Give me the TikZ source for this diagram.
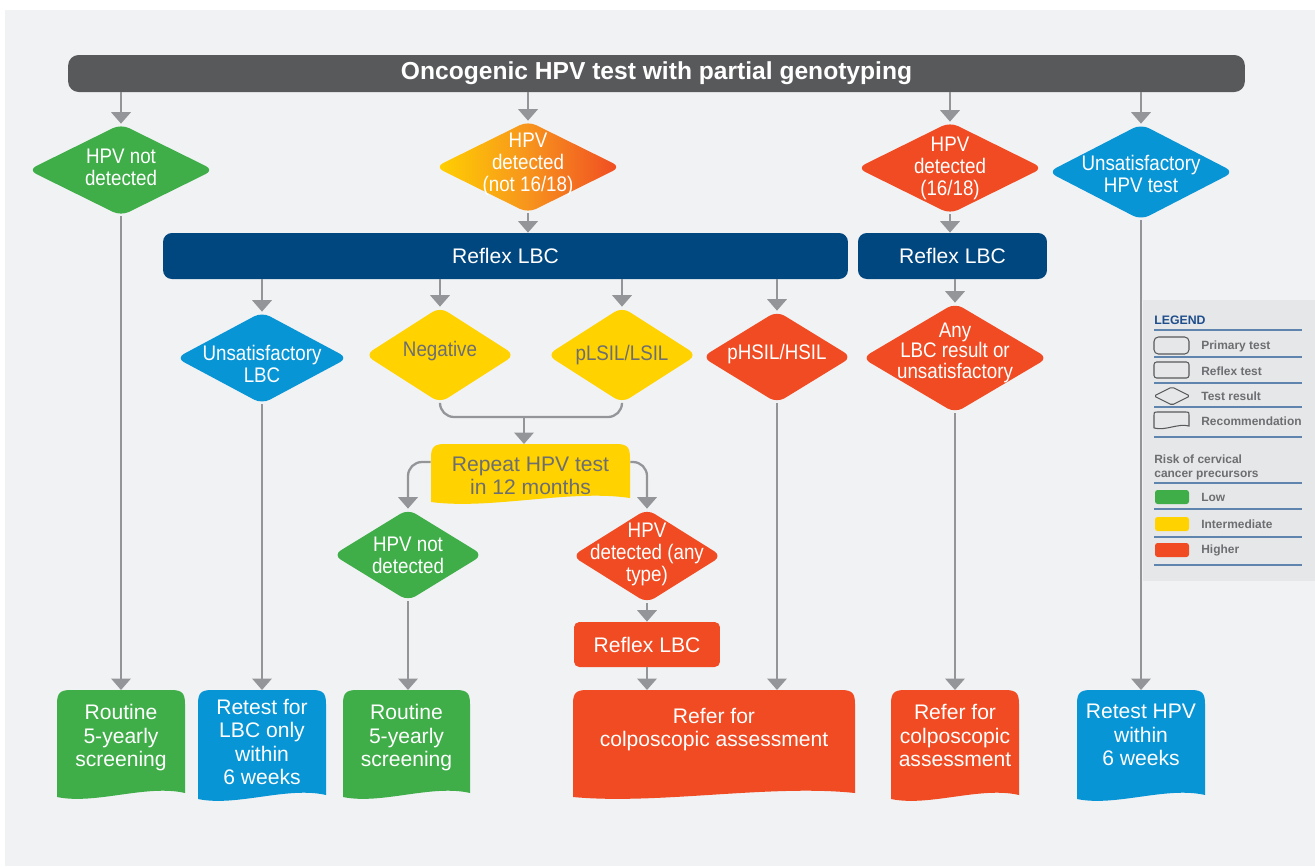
\documentclass[tikz,border=0pt]{standalone}
\usepackage{fontspec}
\setmainfont{Liberation Sans}
\newfontfamily\narrowfont[FakeStretch=0.89]{Liberation Sans}
\usepackage{tikz}
\usetikzlibrary{shapes.geometric,arrows.meta,positioning,calc}

\definecolor{pagebg}{HTML}{F1F2F4}
\definecolor{barGrey}{HTML}{58595B}
\definecolor{lbcBlue}{HTML}{00477F}
\definecolor{lowGreen}{HTML}{3FAE49}
\definecolor{unsatBlue}{HTML}{0795D6}
\definecolor{midYellow}{HTML}{FFD200}
\definecolor{midOrange}{HTML}{F7941D}
\definecolor{highRed}{HTML}{F04B23}
\definecolor{txtGrey}{HTML}{6D6E71}
\definecolor{lineGrey}{HTML}{939598}
\definecolor{legendBg}{HTML}{E6E7E8}
\definecolor{legendLine}{HTML}{5F84AE}
\definecolor{legendBlue}{HTML}{1F4E8C}

\newcommand{\mainsize}{\fontsize{12}{13.3}\selectfont}
\newcommand{\diamsize}{\narrowfont\fontsize{12}{12.5}\selectfont}

% recommendation box: name, left, right, top, bottom, colour, node options, text
\newcommand{\recbox}[8]{%
  \fill[#6] (#2,#5) -- (#2,{#4+14}) .. controls (#2,{#4+3}) and ({#2+3},#4) .. ({#2+14},#4)
    -- ({#3-14},#4) .. controls ({#3-3},#4) and (#3,{#4+3}) .. (#3,{#4+14})
    -- (#3,{#5-4}) .. controls ({#3-0.3*(#3-#2)},{#5-13}) and ({#3-0.7*(#3-#2)},{#5+8}) .. (#2,#5) -- cycle;
  \pgfmathsetmacro\recw{(#3-#2)*0.02}
  \node[recbox, minimum width=\recw cm, #7] (#1) at ({(#2+#3)/2},#4) {#8};
}

\begin{document}
\begin{tikzpicture}[x=0.02cm, y=-0.02cm,
    arr/.style={draw=lineGrey, line width=1.3pt, -{Triangle[width=11pt,length=6.5pt]}},
    conn/.style={draw=lineGrey, line width=1.3pt},
    titlebar/.style={rectangle, rounded corners=6pt, fill=barGrey, text=white,
      font=\bfseries\fontsize{14}{16}\selectfont, minimum width=23.54cm, minimum height=0.74cm},
    bar/.style={rectangle, rounded corners=5pt, fill=lbcBlue, text=white, font=\mainsize,
      minimum height=0.92cm},
    diam/.style={diamond, inner sep=0pt, rounded corners=5pt,
      minimum width=3.72cm, minimum height=1.84cm},
    dtext/.style={text=white, align=center, font=\diamsize},
    recbox/.style={rectangle, anchor=north, align=center, text=white, font=\mainsize,
      inner xsep=0pt, inner ysep=8pt},
    legtext/.style={anchor=west, inner sep=0pt, text=txtGrey,
      font=\bfseries\fontsize{6.8}{8}\selectfont},
    legicon/.style={draw=barGrey, line width=0.6pt}]

\useasboundingbox (0,0) rectangle (1315,866);
\fill[pagebg] (5,10) rectangle (1315,866);

% legend
\fill[legendBg] (1143,300) rectangle (1315,581);
\node[legtext, text=legendBlue, font=\bfseries\fontsize{7}{8}\selectfont] (legend) at (1154,320) {LEGEND};
\foreach \y in {330,357,383,407,437,483,509,537,565}
    \draw[legendLine, line width=0.6pt] (1154,\y) -- (1302,\y);
\draw[legicon, rounded corners=2.5pt] (1154,337) rectangle (1189,354);
\draw[legicon, rounded corners=1.5pt] (1154,362) rectangle (1189,378);
\draw[legicon, rounded corners=1pt] (1154,396) -- (1172,387) -- (1190,396) -- (1172,405) -- cycle;
\draw[legicon] (1154,428) -- (1154,415) .. controls (1154,412) .. (1157,412) -- (1186,412)
    .. controls (1189,412) .. (1189,415) -- (1189,426) .. controls (1178,423) and (1166,431) .. (1154,428);
\node[legtext] (lprim) at (1201,346) {Primary test};
\node[legtext] (lrefl) at (1201,371) {Reflex test};
\node[legtext] (lres) at (1201,396) {Test result};
\node[legtext] (lrec) at (1201,421) {Recommendation};
\node[legtext, align=left] (lrisk) at (1154,467) {Risk of cervical\\cancer precursors};
\fill[lowGreen, rounded corners=1.5pt] (1155,490) rectangle (1189,504);
\fill[midYellow, rounded corners=1.5pt] (1155,517) rectangle (1189,531);
\fill[highRed, rounded corners=1.5pt] (1155,543) rectangle (1189,557);
\node[legtext] (llow) at (1201,497) {Low};
\node[legtext] (lmid) at (1201,524) {Intermediate};
\node[legtext] (lhigh) at (1201,550) {Higher};

% primary test
\node[titlebar] (top) at (656.5,73.5) {Oncogenic HPV test with partial genotyping};

% first results
\node[diam, fill=lowGreen, label={[dtext, yshift=1.5pt]center:{HPV not\\detected}}] (d1) at (121,170) {};
\node[diam, left color=midYellow, right color=highRed, middle color=midOrange,
    label={[dtext, yshift=1.5pt]center:{HPV\\detected\\(not 16/18)}}] (d2) at (528,167) {};
\node[diam, fill=highRed, label={[dtext]center:{HPV\\detected\\(16/18)}}] (d3) at (950,168) {};
\node[diam, fill=unsatBlue, minimum height=1.92cm,
    label={[dtext, yshift=-1pt]center:{Unsatisfactory\\HPV test}}] (d4) at (1141,172) {};

% reflex tests
\node[bar, minimum width=13.7cm] (refA) at (505.5,256) {Reflex LBC};
\node[bar, minimum width=3.78cm] (refB) at (952.5,256) {Reflex LBC};

% LBC results
\node[diam, fill=unsatBlue, minimum width=3.44cm,
    label={[dtext, yshift=-3.5pt]center:{Unsatisfactory\\LBC}}] (d5) at (262,358) {};
\node[diam, fill=midYellow, minimum width=3cm, minimum height=1.92cm,
    label={[dtext, text=txtGrey, yshift=2pt]center:Negative}] (d6) at (440,355) {};
\node[diam, fill=midYellow, minimum width=3cm, minimum height=1.92cm,
    label={[dtext, text=txtGrey]center:pLSIL/LSIL}] (d7) at (622,355) {};
\node[diam, fill=highRed, minimum width=3cm,
    label={[dtext, yshift=1.5pt]center:pHSIL/HSIL}] (d8) at (777,357) {};
\node[diam, fill=highRed, minimum height=2.2cm,
    label={[dtext, font=\narrowfont\fontsize{12}{11.5}\selectfont, yshift=3pt]center:{Any\\LBC result or\\unsatisfactory}}] (d9) at (955,358) {};

% repeat test
\recbox{rep}{431}{630}{444}{502}{midYellow}{text=txtGrey, inner ysep=7pt}{Repeat HPV test\\in 12 months}
\node[diam, fill=lowGreen, minimum width=3cm,
    label={[dtext]center:{HPV not\\detected}}] (d10) at (408,555) {};
\node[diam, fill=highRed, minimum width=3cm, minimum height=1.88cm,
    label={[dtext, yshift=1pt]center:{HPV\\detected (any\\type)}}] (d11) at (647,556) {};
\node[bar, fill=highRed, rounded corners=3pt, minimum width=2.92cm, minimum height=0.9cm] (refC) at (647,644.5) {Reflex LBC};

% recommendations
\recbox{r1}{57}{185}{690}{797}{lowGreen}{}{Routine\\5-yearly\\screening}
\recbox{r2}{198}{326}{690}{799}{unsatBlue}{inner ysep=5pt}{Retest for\\LBC only\\within\\6 weeks}
\recbox{r3}{343}{470}{690}{797}{lowGreen}{}{Routine\\5-yearly\\screening}
\recbox{r4}{573}{855}{690}{797}{highRed}{inner ysep=10pt}{Refer for\\colposcopic assessment}
\recbox{r5}{891}{1019}{690}{799}{highRed}{}{Refer for\\colposcopic\\assessment}
\recbox{r6}{1077}{1205}{690}{799}{unsatBlue}{}{Retest HPV\\within\\6 weeks}

% connectors
\foreach \d in {d1,d2,d3,d4}
    \draw[arr] (top.south -| \d.north) -- (\d.north);
\draw[arr] (d2.south) -- (d2.south |- refA.north);
\draw[arr] (d3.south) -- (d3.south |- refB.north);
\foreach \d in {d5,d6,d7,d8}
    \draw[arr] (refA.south -| \d.north) -- (\d.north);
\draw[arr] (refB.south -| d9.north) -- (d9.north);

\coordinate (merge) at (524,417);
\draw[conn, rounded corners=8pt] (d6.south) |- (merge) -| (d7.south);
\draw[arr] (merge) -- (merge |- rep.north);
\draw[arr, rounded corners=8pt] ($(rep.north west)+(0,18)$) -| (d10.north);
\draw[arr, rounded corners=8pt] ($(rep.north east)+(0,18)$) -| (d11.north);
\draw[arr] (d11.south) -- (refC.north);

\draw[arr] (d1.south) -- (d1.south |- r1.north);
\draw[arr] (d5.south) -- (d5.south |- r2.north);
\draw[arr] (d10.south) -- (d10.south |- r3.north);
\draw[arr] (refC.south) -- (refC.south |- r4.north);
\draw[arr] (d8.south) -- (d8.south |- r4.north);
\draw[arr] (d9.south) -- (d9.south |- r5.north);
\draw[arr] (d4.south) -- (d4.south |- r6.north);
\end{tikzpicture}
\end{document}
